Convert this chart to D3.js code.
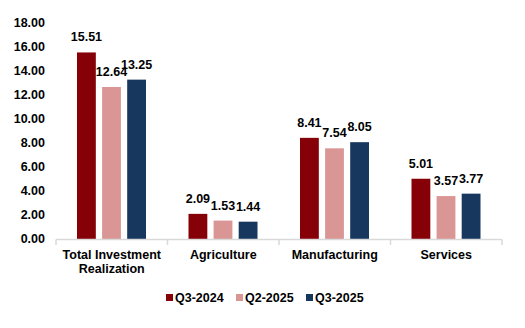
<!DOCTYPE html>
<html lang="en">
<head>
    <script src="https://d3js.org/d3.v7.min.js"></script>
    <style>
        body { margin: 0; background: #fff; }
        text { font-family: "Liberation Sans", Arial, sans-serif; font-weight: bold; fill: #000; }
    </style>
</head>
<body>
    <svg width="525" height="328"></svg>
    <script>
        const categories = [["Total Investment", "Realization"], ["Agriculture"], ["Manufacturing"], ["Services"]];
        const seriesNames = ["Q3-2024", "Q2-2025", "Q3-2025"];
        const q32024 = [15.51, 2.09, 8.41, 5.01];
        const q22025 = [12.64, 1.53, 7.54, 3.57];
        const q32025 = [13.25, 1.44, 8.05, 3.77];
        const yTicks = [0, 2, 4, 6, 8, 10, 12, 14, 16, 18];
        const colors = ["#860007", "#d99694", "#17375e"];

        const series = [q32024, q22025, q32025];
        const svg = d3.select("svg");
        const fs = 12.5;

        const x = d3.scaleBand()
            .domain(d3.range(categories.length))
            .range([56, 502]);
        const xInner = d3.scaleBand()
            .domain(d3.range(seriesNames.length))
            .range([21, 90])
            .paddingInner(0.25);
        const y = d3.scaleLinear().domain([0, 18]).range([239, 22.5]);

        // y labels
        svg.append("g").selectAll("text")
            .data(yTicks)
            .join("text")
            .attr("x", 45)
            .attr("y", d => y(d))
            .attr("dy", "0.35em")
            .attr("text-anchor", "end")
            .attr("font-size", fs)
            .text(d => d.toFixed(2));

        // bars
        const groups = svg.append("g").selectAll("g")
            .data(categories.map((c, i) => i))
            .join("g")
            .attr("transform", i => `translate(${x(i)},0)`);

        groups.selectAll("rect")
            .data(i => series.map((s, k) => ({k, v: s[i]})))
            .join("rect")
            .attr("x", d => xInner(d.k))
            .attr("width", xInner.bandwidth())
            .attr("y", d => y(d.v))
            .attr("height", d => y(0) - y(d.v))
            .attr("fill", d => colors[d.k]);

        groups.selectAll("text")
            .data(i => series.map((s, k) => ({k, v: s[i]})))
            .join("text")
            .attr("x", d => xInner(d.k) + xInner.bandwidth() / 2)
            .attr("y", d => y(d.v) - 11)
            .attr("text-anchor", "middle")
            .attr("font-size", fs)
            .text(d => d.v.toFixed(2));

        // x axis
        const axis = svg.append("g").attr("stroke", "#d9d9d9").attr("stroke-width", 1.5);
        axis.append("line").attr("x1", 56).attr("x2", 502).attr("y1", 239.5).attr("y2", 239.5);
        axis.selectAll(".tk")
            .data(d3.range(categories.length + 1))
            .join("line")
            .attr("x1", i => 56 + i * x.step())
            .attr("x2", i => 56 + i * x.step())
            .attr("y1", 239.5).attr("y2", 245);

        svg.append("g").selectAll("text")
            .data(categories)
            .join("text")
            .attr("text-anchor", "middle")
            .attr("font-size", fs)
            .attr("x", (d, i) => x(i) + x.bandwidth() / 2)
            .attr("y", 259)
            .each(function(d) {
                d3.select(this).selectAll("tspan")
                    .data(d)
                    .join("tspan")
                    .attr("x", d3.select(this).attr("x"))
                    .attr("dy", (t, j) => j === 0 ? 0 : 14)
                    .text(t => t);
            });

        // legend
        const legendX = [166, 236, 306];
        const legend = svg.append("g").selectAll("g")
            .data(seriesNames)
            .join("g")
            .attr("transform", (d, i) => `translate(${legendX[i]},298)`);
        legend.append("rect")
            .attr("x", 0).attr("y", -4)
            .attr("width", 7).attr("height", 7)
            .attr("fill", (d, i) => colors[i]);
        legend.append("text")
            .attr("x", 9)
            .attr("dy", "0.35em")
            .attr("font-size", fs)
            .text(d => d);
    </script>
</body>
</html>
